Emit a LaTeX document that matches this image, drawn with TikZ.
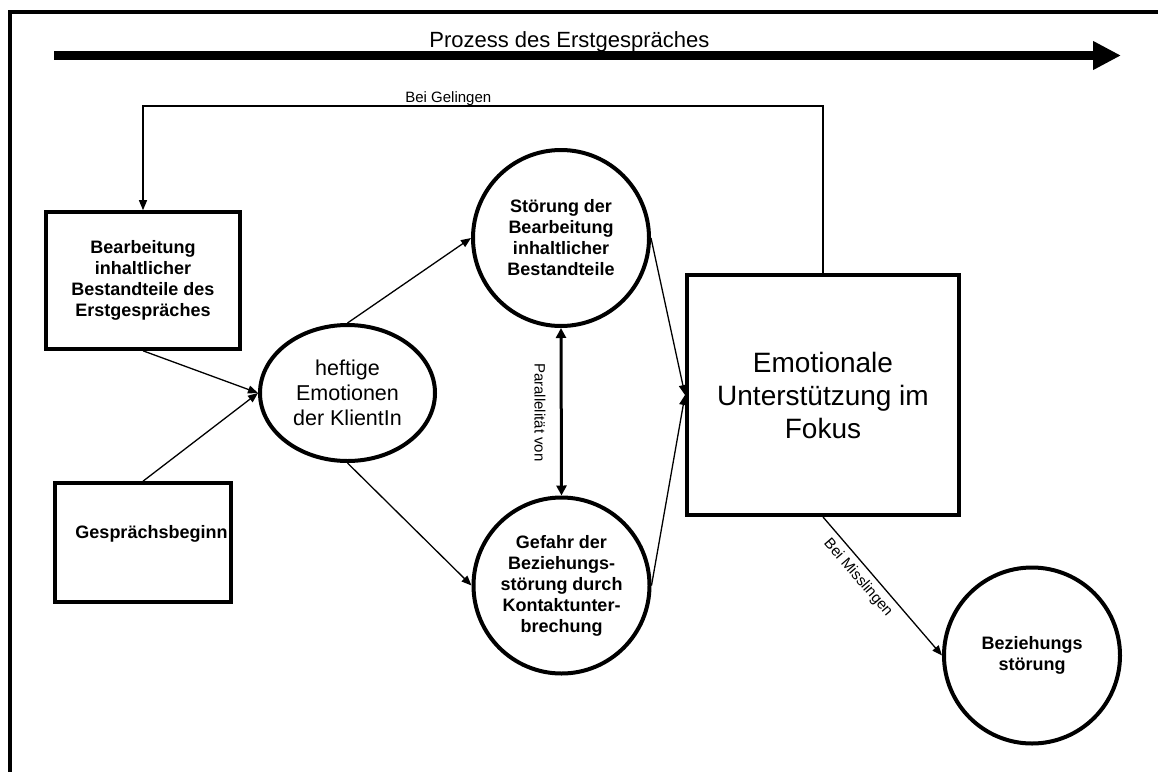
\documentclass[tikz,border=0pt]{standalone}
\usepackage{fontspec}
\setmainfont{Liberation Sans}
\usetikzlibrary{arrows.meta,shapes.geometric}

\begin{document}
\begin{tikzpicture}[x=1pt,y=-1pt,
  thinline/.style={line width=1.3pt},
  tip/.style={-{Triangle[length=10pt,width=8pt]}},
  boxnode/.style={draw, line width=3.6pt, inner sep=0pt, align=center},
  roundnode/.style={draw, circle, line width=4pt, inner sep=0pt, minimum size=176pt, align=center},
  boldtext/.style={font=\fontsize{18}{21}\selectfont\bfseries},
  smalltext/.style={font=\fontsize{15}{17}\selectfont, inner sep=1pt},
]
% canvas and frame
\fill[white] (0,0) rectangle (1158,771);
\useasboundingbox (0,0) rectangle (1158,771);
\draw[line width=4pt, line join=miter] (10,780) -- (10,12) -- (1170,12);

% process arrow across the top
\coordinate (procstart) at (54,55.5);
\coordinate (procend) at (1121,55.5);
\draw[line width=9pt, -{Triangle[length=28pt,width=27pt]}] (procstart) -- (procend)
  node[pos=0.483, anchor=base, yshift=8.5pt, font=\fontsize{22}{25}\selectfont] (proclabel) {Prozess des Erstgespräches};

% nodes
\node[boxnode, boldtext, minimum width=194pt, minimum height=137pt] (content) at (143,280.5)
  {Bearbeitung\\inhaltlicher\\Bestandteile des\\Erstgespräches};
\node[boxnode, minimum width=176pt, minimum height=119pt,
  label={[boldtext, name=startlabel, xshift=8.5pt, yshift=8.5pt]center:Gesprächsbeginn}] (start) at (143,542.5) {};
\node[draw, ellipse, line width=4pt, inner sep=0pt, minimum width=175pt, minimum height=136pt,
  align=center, font=\fontsize{21.5}{25}\selectfont] (emo) at (347.5,393) {heftige\\Emotionen\\der KlientIn};
\node[roundnode, boldtext] (disrupt) at (561,238) {Störung der\\Bearbeitung\\inhaltlicher\\Bestandteile};
\node[roundnode, boldtext] (danger) at (561.5,585.5) {Gefahr der\\Beziehungs-\\störung durch\\Kontaktunter-\\brechung};
\node[boxnode, line width=4pt, minimum width=272pt, minimum height=240pt,
  font=\fontsize{28}{33}\selectfont] (focus) at (823,395) {Emotionale\\Unterstützung im\\Fokus};
\node[roundnode, boldtext] (breach) at (1032,655.5) {Beziehungs\\störung};

% connectors
\draw[thinline, tip] (content.south) -- (emo.west);
\draw[thinline, tip] (start.north) -- (emo.west);
\draw[thinline, tip] (emo.north) -- (disrupt.west);
\draw[thinline, tip] (emo.south) -- (danger.west);
\draw[thinline, tip] (disrupt.east) -- (focus.west);
\draw[thinline, tip] (danger.east) -- (focus.west);
\draw[line width=3pt, {Triangle[length=10pt,width=10pt]}-{Triangle[length=10pt,width=10pt]}]
  (disrupt.south) -- (danger.north);
\node[smalltext, rotate=-90] (parlabel) at (540,412.5) {Parallelität von};

\coordinate (loopy) at (0,106);
\draw[thinline, tip] (focus.north) -- (focus.north |- loopy)
  -- node[pos=0.551, anchor=base, yshift=4pt, smalltext] (oklabel) {Bei Gelingen} (content.north |- loopy)
  -- (content.north);

\draw[thinline, tip] (focus.south) -- (breach.west);
\node[smalltext, rotate=-49.2] (faillabel) at (858,578) {Bei Misslingen};
\end{tikzpicture}
\end{document}
